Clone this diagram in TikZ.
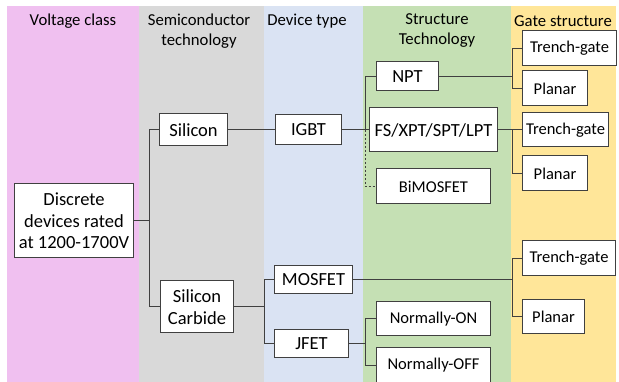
\documentclass[tikz,border=0pt]{standalone}
\usepackage{fontspec}
\setmainfont{Carlito}
\usepackage{tikz}

\definecolor{bandpink}{RGB}{240,192,240}
\definecolor{bandgrey}{RGB}{217,217,217}
\definecolor{bandblue}{RGB}{218,227,243}
\definecolor{bandgreen}{RGB}{197,224,180}
\definecolor{bandyellow}{RGB}{255,230,153}
\definecolor{linegrey}{RGB}{64,64,64}

\begin{document}
\begin{tikzpicture}[x=1pt, y=-1pt, line width=1pt,
    box/.style={draw=linegrey, fill=white, anchor=west, align=center, inner sep=0pt,
        font=\fontsize{18.5}{21.5}\selectfont},
    smallbox/.style={box, font=\fontsize{16.5}{20}\selectfont},
    head/.style={align=center, font=\fontsize{16.7}{20}\selectfont},
    wire/.style={color=linegrey}]
    \useasboundingbox (0, 0) rectangle (619, 382);
    \clip (0, 0) rectangle (619, 382);
    \fill[color=white] (0, 0) rectangle (619, 382);

    % draw the coloured columns
    \fill[color=bandpink] (7, 6) rectangle (139, 382);
    \fill[color=bandgrey] (139, 6) rectangle (264, 382);
    \fill[color=bandblue] (264, 6) rectangle (363, 382);
    \fill[color=bandgreen] (363, 6) rectangle (511, 382);
    \fill[color=bandyellow] (511, 6) rectangle (616, 382);

    % column titles
    \node[head] (hvolt) at (73, 21) {Voltage class};
    \node[head] (hsemi) at (199, 31) {Semiconductor\\technology};
    \node[head] (hdev) at (307, 21) {Device type};
    \node[head] (hstruct) at (437, 31) {Structure\\Technology};
    \node[head] (hgate) at (563, 21) {Gate structure};

    % voltage class and material
    \node[box, minimum width=119pt, minimum height=74pt] (disc) at (14, 221)
        {Discrete\\devices rated\\at 1200-1700V};
    \node[box, minimum width=68pt, minimum height=32pt] (si) at (159, 130) {Silicon};
    \node[box, minimum width=73pt, minimum height=52pt] (sic) at (160, 307) {Silicon\\Carbide};

    % device types
    \node[box, minimum width=66pt, minimum height=30pt] (igbt) at (275, 130) {IGBT};
    \node[box, minimum width=78pt, minimum height=28pt] (mosfet) at (274, 279.5) {MOSFET};
    \node[box, minimum width=74pt, minimum height=28pt] (jfet) at (274, 343.5) {JFET};

    % structure technology
    \node[box, minimum width=62pt, minimum height=29pt] (npt) at (376, 76.5) {NPT};
    \node[box, minimum width=128pt, minimum height=44pt] (fs) at (369, 130) {FS/XPT/SPT/LPT};
    \node[smallbox, minimum width=114pt, minimum height=35pt] (bimos) at (376, 186.5) {BiMOSFET};
    \node[smallbox, minimum width=114pt, minimum height=34pt] (non) at (376, 319) {Normally-ON};
    \node[smallbox, minimum width=114pt, minimum height=36pt] (noff) at (376, 365) {Normally-OFF};

    % gate structure
    \node[smallbox, minimum width=94pt, minimum height=35pt] (tga) at (522, 48.5) {Trench-gate};
    \node[smallbox, minimum width=65pt, minimum height=35pt] (pla) at (522, 88.5) {Planar};
    \node[smallbox, minimum width=86pt, minimum height=34pt] (tgb) at (522, 130) {Trench-gate};
    \node[smallbox, minimum width=65pt, minimum height=35pt] (plb) at (522, 173.5) {Planar};
    \node[smallbox, minimum width=93pt, minimum height=35pt] (tgc) at (522, 258.5) {Trench-gate};
    \node[smallbox, minimum width=62pt, minimum height=34pt] (plc) at (522, 317) {Planar};

    % draw the tree connectors
    \draw[wire] (disc.east) -- ++(15, 0) |- (si.west);
    \draw[wire] (disc.east) -- ++(15, 0) |- (sic.west);
    \draw[wire] (si.east) -- (igbt.west);

    \draw[wire] (igbt.east) -- ++(23, 0) |- (npt.west);
    \draw[wire] (igbt.east) -- (fs.west);
    \draw[wire, dash pattern=on 2pt off 2pt] (igbt.east) ++(23, 0) |- (bimos.west);

    \draw[wire] (sic.east) -- ++(30, 0) |- (mosfet.west);
    \draw[wire] (sic.east) -- ++(30, 0) |- (jfet.west);

    \draw[wire] (npt.east) -- ++(73, 0) |- (tga.west);
    \draw[wire] (npt.east) -- ++(73, 0) |- (pla.west);
    \draw[wire] (fs.east) -- (tgb.west);
    \draw[wire] (fs.east) -- ++(14, 0) |- (plb.west);

    \draw[wire] (mosfet.east) -- ++(159, 0) |- (tgc.west);
    \draw[wire] (mosfet.east) -- ++(159, 0) |- (plc.west);
    \draw[wire] (jfet.east) -- ++(16, 0) |- (non.west);
    \draw[wire] (jfet.east) -- ++(16, 0) |- (noff.west);
\end{tikzpicture}
\end{document}
